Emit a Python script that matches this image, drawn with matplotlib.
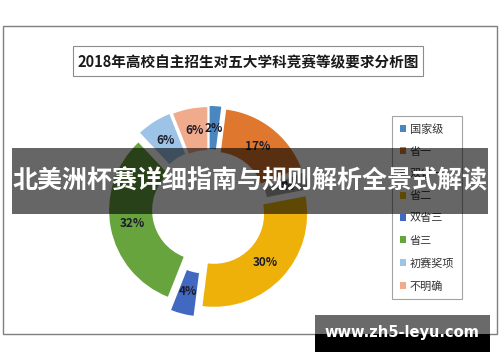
import matplotlib
matplotlib.use("Agg")
import matplotlib.pyplot as plt
from matplotlib.patches import Rectangle

plt.rcParams['font.family'] = ['Noto Sans CJK SC', 'DejaVu Sans']

# ---- data ----
title = "2018年高校自主招生对五大学科竞赛等级要求分析图"
categories = ["国家级", "省一", "双省一", "省二", "双省三", "省三", "初赛奖项", "不明确"]
values = [2, 17, 3, 30, 4, 32, 6, 6]
colors = ["#4a87c0", "#e0772f", "#a5a5a5", "#edb10a", "#4169c1", "#67a43e", "#9dc3e6", "#f0aa8c"]
explode = [10, 9, 9, 7, 15, 7, 10, 9]
banner_text = "北美洲杯赛详细指南与规则解析全景式解读"
watermark = "www.zh5-leyu.com"

W, H = 500, 362
fig = plt.figure(figsize=(W / 100, H / 100), dpi=100)
ax = fig.add_axes([0, 0, 1, 1])

def Y(py):
    return H - py

# outer frame
ax.add_patch(Rectangle((3, Y(334)), 494, 308, facecolor="white", edgecolor="#7f7f7f", lw=1.0, zorder=0))

# title box
ax.add_patch(Rectangle((73, Y(76)), 350, 30, facecolor="white", edgecolor="#8c8c8c", lw=0.8, zorder=1))
ax.text(248, Y(61), title, ha="center", va="center", fontsize=10.5, fontweight="bold", color="#1a1a1a", zorder=2)

# donut
wedges, texts, autotexts = ax.pie(
    values, colors=colors, explode=explode, startangle=90, counterclock=False,
    radius=93, center=(209, Y(209)),
    wedgeprops=dict(width=43, edgecolor="none"),
    autopct=lambda p: f"{p:.0f}%", pctdistance=0.76,
    textprops=dict(fontsize=8.5, fontweight="bold", color="#1c1c2a"),
    frame=True,
)

ax.set_xlim(0, W)
ax.set_ylim(0, H)
ax.set_aspect("equal")
ax.axis("off")

leg = ax.legend(
    wedges, categories, loc="upper left",
    bbox_to_anchor=(392 / W, Y(116) / H), bbox_transform=ax.transAxes,
    fontsize=8, frameon=True, fancybox=False, edgecolor="#8c8c8c",
    handlelength=0.6, handleheight=0.6, handletextpad=0.3,
    labelspacing=1.1, borderpad=0.7, borderaxespad=0,
)
leg.get_frame().set_linewidth(0.8)
for t in leg.get_texts():
    t.set_color("#333333")
leg.set_zorder(5)

# banner overlay
ax.add_patch(Rectangle((12, Y(214)), 476, 66, facecolor="black", alpha=0.6, edgecolor="none", zorder=10))
ax.text(250, Y(181), banner_text, ha="center", va="center", fontsize=18, fontweight="bold", color="white", zorder=11)

# watermark
ax.add_patch(Rectangle((315, Y(334)), 175, 19, facecolor="#6a6a6a", edgecolor="none", zorder=10))
ax.add_patch(Rectangle((315, Y(352)), 175, 18, facecolor="black", edgecolor="none", zorder=10))
ax.text(402, Y(333), watermark, ha="center", va="center", fontsize=10.5, fontweight="bold", color="white",
        family="DejaVu Sans", zorder=11)

fig.savefig("out.png", dpi=100)
